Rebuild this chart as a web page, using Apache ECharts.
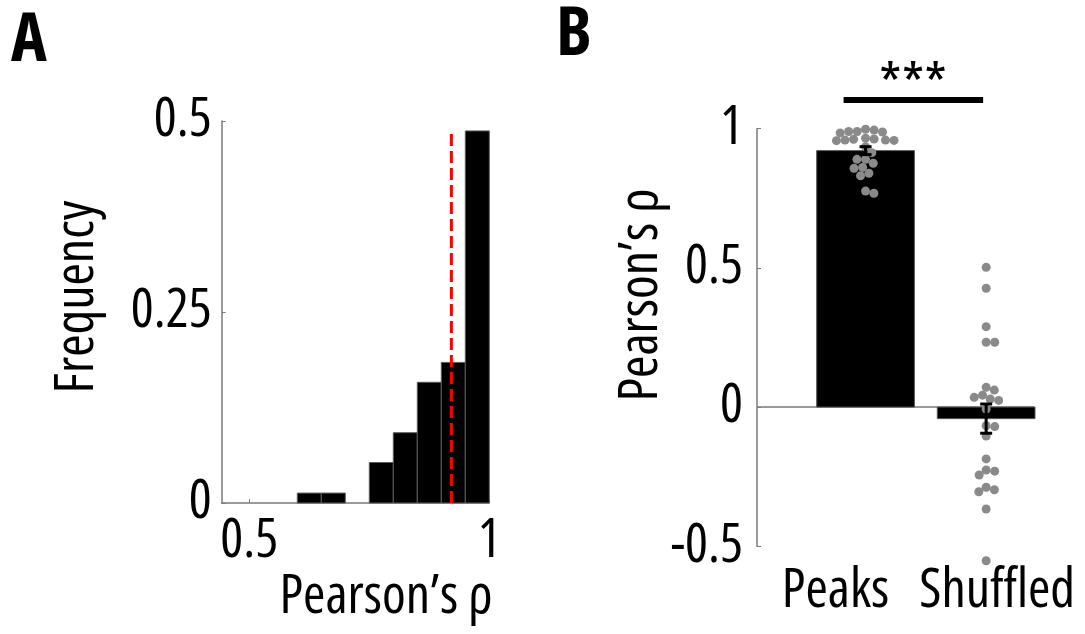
<!DOCTYPE html>
<html>
<head>
<meta charset="utf-8">
<style>
  html, body { margin: 0; padding: 0; background: #fff; }
  #chart { width: 1085px; height: 634px; }
</style>
<script src="https://cdn.jsdelivr.net/npm/echarts@6/dist/echarts.min.js"></script>
</head>
<body>
<div id="chart"></div>
<script>
// ---- Panel A: histogram of per-cell correlations ----
const histBinStart = [0.60, 0.65, 0.70, 0.75, 0.80, 0.85, 0.90, 0.95];
const histFreq     = [0.013, 0.013, 0.000, 0.053, 0.092, 0.158, 0.184, 0.487];
const histBinWidth = 0.05;
const histXTicks   = [0.5, 1];
const histMarker   = 0.921;   // dashed reference value
const histMarkerTop = 0.486;

// ---- Panel B: correlation for peaks vs shuffled peaks ----
const groups = ['Peaks', 'Shuffled'];
const peaksRho = [0.990, 0.998, 0.985, 0.995, 0.990, 0.988,
                  0.966, 0.962, 0.959, 0.963, 0.959, 0.958, 0.957,
                  0.935, 0.914, 0.890, 0.890, 0.876, 0.858, 0.861,
                  0.840, 0.831, 0.776, 0.768];
const shuffledRho = [0.502, 0.427, 0.289, 0.233, 0.233, 0.071, 0.061, 0.043,
                     0.035, 0.024, 0.029, -0.007, -0.067, -0.070, -0.104, -0.186,
                     -0.230, -0.226, -0.244, -0.288, -0.304, -0.297, -0.366, -0.552];
const sigText = '***';
const sigBar = { from: 0.818, to: 1.975, y: 1.103 };

// condensed width of Open Sans, requested through the font shorthand
const FONT = "'Open Sans', 'Noto Sans', sans-serif";
const STRETCH = 'condensed';
const FS = 54;
const AXIS_GRAY = '#7a7a7a';
const DOT_GRAY = '#8a8a8a';

function txt(size, bold) {
  return { fontFamily: FONT, fontSize: size, fontStyle: STRETCH, fontWeight: bold ? 'bold' : 'normal', color: '#000' };
}
function gtxt(text, size, bold, extra) {
  return Object.assign({ text: text, fontFamily: FONT, fontSize: size, fontStyle: STRETCH,
    fontWeight: bold ? 'bold' : 'normal', fill: '#000' }, extra || {});
}

function mean(a) { return a.reduce((s, v) => s + v, 0) / a.length; }
function sem(a) {
  const m = mean(a);
  const v = a.reduce((s, x) => s + (x - m) * (x - m), 0) / (a.length - 1);
  return Math.sqrt(v / a.length);
}
const groupData = [peaksRho, shuffledRho];
const barData = groupData.map((g, i) => [i + 1, mean(g)]);
const errData = groupData.map((g, i) => [i + 1, mean(g), sem(g)]);
const BAR_HALF = 0.405;   // half bar width, in x-axis units

const chart = echarts.init(document.getElementById('chart'), null, { renderer: 'canvas' });

const option = {
  animation: false,
  backgroundColor: '#fff',
  grid: [
    { left: 221.7, top: 121, width: 267.6, height: 382, containLabel: false },
    { left: 757, top: 128.7, width: 277.4, height: 417.6, containLabel: false }
  ],
  xAxis: [
    {
      gridIndex: 0, type: 'value', min: 0.4425, max: 1,
      splitLine: { show: false },
      axisLine: { show: true, onZero: false, lineStyle: { color: AXIS_GRAY, width: 1.5 } },
      axisTick: { show: true, inside: true, length: 4, customValues: histXTicks, lineStyle: { color: AXIS_GRAY } },
      axisLabel: Object.assign({ customValues: histXTicks, margin: 12, hideOverlap: false }, txt(FS))
    },
    {
      gridIndex: 1, type: 'value', min: 0.1, max: 2.4,
      splitLine: { show: false },
      axisLine: { show: false, onZero: false },
      axisTick: { show: false },
      axisLabel: Object.assign({
        customValues: [1, 2], margin: 18, hideOverlap: false,
        formatter: function (v) {
          const k = Math.round(Number(v)) - 1;
          return k === 0 ? '{a|' + groups[0] + '}' : '{b|' + groups[1] + '}';
        },
        rich: {
          a: Object.assign({ padding: [0, 60, 0, 0] }, txt(FS)),
          b: Object.assign({ padding: [0, 0, 0, 22] }, txt(FS))
        }
      }, txt(FS))
    }
  ],
  yAxis: [
    {
      gridIndex: 0, type: 'value', min: 0, max: 0.5, interval: 0.25,
      splitLine: { show: false },
      axisLine: { show: true, lineStyle: { color: AXIS_GRAY, width: 1.5 } },
      axisTick: { show: true, inside: true, length: 4, lineStyle: { color: AXIS_GRAY } },
      axisLabel: Object.assign({ margin: 10, hideOverlap: false }, txt(FS))
    },
    {
      gridIndex: 1, type: 'value', min: -0.5, max: 1, interval: 0.5,
      splitLine: { show: false },
      axisLine: { show: true, onZero: false, lineStyle: { color: AXIS_GRAY, width: 1.5 } },
      axisTick: { show: true, inside: true, length: 4, lineStyle: { color: AXIS_GRAY } },
      axisLabel: Object.assign({ margin: 14, hideOverlap: false }, txt(FS))
    }
  ],
  graphic: [
    { type: 'text', x: 11, y: 42, style: gtxt('A', 68, true, { align: 'left', verticalAlign: 'middle' }) },
    { type: 'text', x: 556, y: 36, style: gtxt('B', 68, true, { align: 'left', verticalAlign: 'middle' }) },
    { type: 'text', x: 78, y: 297, rotation: Math.PI / 2,
      style: gtxt('Frequency', FS, false, { align: 'center', verticalAlign: 'middle' }) },
    { type: 'text', x: 386, y: 598,
      style: gtxt('Pearson’s ρ', FS, false, { align: 'center', verticalAlign: 'middle' }) },
    { type: 'text', x: 642, y: 295, rotation: Math.PI / 2,
      style: gtxt('Pearson’s ρ', FS, false, { align: 'center', verticalAlign: 'middle' }) },
    { type: 'text', x: 913, y: 89,
      style: gtxt(sigText, 58, false, { align: 'center', verticalAlign: 'middle' }) }
  ],
  series: [
    {
      // histogram bars
      type: 'custom', xAxisIndex: 0, yAxisIndex: 0,
      data: histBinStart.map((s, i) => [s, histFreq[i]]),
      renderItem: function (params, api) {
        const x0 = api.value(0), h = api.value(1);
        if (h <= 0) return null;
        const p0 = api.coord([x0, 0]);
        const p1 = api.coord([x0 + histBinWidth, h]);
        return {
          type: 'rect',
          shape: { x: p0[0], y: p1[1], width: p1[0] - p0[0], height: p0[1] - p1[1] },
          style: { fill: '#000', stroke: '#5a5a5a', lineWidth: 1 }
        };
      }
    },
    {
      // dashed reference line
      type: 'line', xAxisIndex: 0, yAxisIndex: 0, z: 5,
      data: [[histMarker, 0], [histMarker, histMarkerTop]],
      symbol: 'none',
      lineStyle: { color: '#ff0000', width: 3, type: [12, 5] }
    },
    {
      // group means as bars
      type: 'custom', xAxisIndex: 1, yAxisIndex: 1, z: 2,
      data: barData,
      renderItem: function (params, api) {
        const x = api.value(0), m = api.value(1);
        const a = api.coord([x - BAR_HALF, 0]);
        const b = api.coord([x + BAR_HALF, m]);
        return {
          type: 'rect',
          shape: { x: a[0], y: Math.min(a[1], b[1]), width: b[0] - a[0], height: Math.abs(a[1] - b[1]) },
          style: { fill: '#000', stroke: '#555', lineWidth: 1 }
        };
      },
      markLine: {
        silent: true, symbol: 'none', label: { show: false }, z: 1,
        lineStyle: { color: AXIS_GRAY, width: 1.5, type: 'solid' },
        data: [{ yAxis: 0 }]
      }
    },
    {
      // individual values
      id: 'dots', type: 'scatter', xAxisIndex: 1, yAxisIndex: 1, z: 6,
      symbolSize: 9, clip: false,
      itemStyle: { color: DOT_GRAY, opacity: 1 },
      data: []
    },
    {
      // error bars (s.e.m.)
      type: 'custom', xAxisIndex: 1, yAxisIndex: 1, z: 7,
      data: errData,
      renderItem: function (params, api) {
        const x = api.value(0), m = api.value(1), e = api.value(2);
        const hi = api.coord([x, m + e]);
        const lo = api.coord([x, m - e]);
        const w = 6;
        const st = { stroke: '#000', lineWidth: 3 };
        return {
          type: 'group',
          children: [
            { type: 'line', shape: { x1: hi[0], y1: hi[1], x2: lo[0], y2: lo[1] }, style: st },
            { type: 'line', shape: { x1: hi[0] - w, y1: hi[1], x2: hi[0] + w, y2: hi[1] }, style: st },
            { type: 'line', shape: { x1: lo[0] - w, y1: lo[1], x2: lo[0] + w, y2: lo[1] }, style: st }
          ]
        };
      }
    },
    {
      // significance bar
      type: 'line', xAxisIndex: 1, yAxisIndex: 1, z: 5, clip: false,
      data: [[sigBar.from, sigBar.y], [sigBar.to, sigBar.y]],
      symbol: 'none',
      lineStyle: { color: '#000', width: 6 }
    }
  ]
};

chart.setOption(option);

// Beeswarm layout of the individual values, done in pixel space so dots do not overlap
function swarm(values, center, diameter) {
  const placed = [];
  const out = [];
  values.forEach(v => {
    const py = chart.convertToPixel({ gridIndex: 1 }, [center, v]);
    const cx = py[0], cy = py[1];
    const cands = [0];
    placed.forEach(p => {
      const dy = p.y - cy;
      if (Math.abs(dy) < diameter) {
        const dx = Math.sqrt(diameter * diameter - dy * dy);
        cands.push(p.x - cx + dx, p.x - cx - dx);
      }
    });
    cands.sort((a, b) => Math.abs(a) - Math.abs(b));
    let off = 0;
    for (const c of cands) {
      const ok = placed.every(p => {
        const dx = p.x - (cx + c), dy = p.y - cy;
        return dx * dx + dy * dy >= diameter * diameter - 0.01;
      });
      if (ok) { off = c; break; }
    }
    placed.push({ x: cx + off, y: cy });
    const back = chart.convertFromPixel({ gridIndex: 1 }, [cx + off, cy]);
    out.push([back[0], v]);
  });
  return out;
}

const dots = [];
groupData.forEach((g, i) => {
  const sorted = g.slice().sort((a, b) => b - a);
  swarm(sorted, i + 1, 8.6).forEach(p => dots.push(p));
});
chart.setOption({ series: [{ id: 'dots', data: dots }] });
</script>
</body>
</html>
